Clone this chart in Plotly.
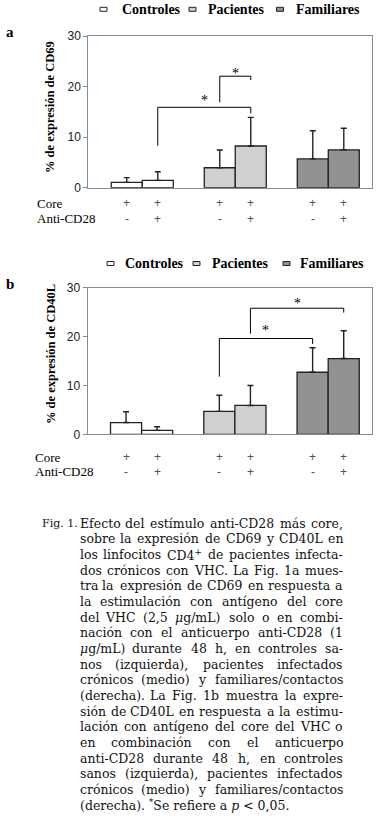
import re
import plotly.graph_objects as go

W, H = 387, 816

# ---------------- data ----------------
groups = ["Controles", "Pacientes", "Familiares"]
group_colors = ["#ffffff", "#d0d0d0", "#929292"]
bar_pos = [[0, 1], [3, 4], [6, 7]]

cd69_mean = [[1.05, 1.45], [3.95, 8.25], [5.7, 7.5]]
cd69_err = [[0.95, 1.7], [3.5, 5.65], [5.55, 4.25]]
cd40l_mean = [[2.4, 0.8], [4.7, 5.9], [12.7, 15.5]]
cd40l_err = [[2.2, 0.75], [3.3, 4.1], [5.0, 5.7]]

core_marks = ["+", "+", "+", "+", "+", "+"]
cd28_marks = ["-", "+", "-", "+", "-", "+"]
row_labels = ["Core", "Anti-CD28"]

y_ticks = [0, 10, 20, 30]

# (x_left, x_right, y_left_end, y_top, y_right_end, y_star)
cd69_brackets = [(1, 4, 8.3, 15.9, 14.7, 17.3), (3, 4, 16.9, 22.05, 21.3, 22.6)]
cd40l_brackets = [(3, 6, 11.8, 19.6, 18.5, 21.2), (4, 7, 20.6, 25.8, 24.9, 26.8)]

caption_lines = [
    "Efecto del estímulo anti-CD28 más core,",
    "sobre la expresión de CD69 y CD40L en",
    "los linfocitos CD4<sup>+</sup> de pacientes infecta-",
    "dos crónicos con VHC. La Fig. 1a mues-",
    "tra la expresión de CD69 en respuesta a",
    "la estimulación con antígeno del core",
    "del VHC (2,5 <i>μ</i>g/mL) solo o en combi-",
    "nación con el anticuerpo anti-CD28 (1",
    "<i>μ</i>g/mL) durante 48 h, en controles sa-",
    "nos (izquierda), pacientes infectados",
    "crónicos (medio) y familiares/contactos",
    "(derecha). La Fig. 1b muestra la expre-",
    "sión de CD40L en respuesta a la estimu-",
    "lación con antígeno del core del VHC o",
    "en combinación con el anticuerpo",
    "anti-CD28 durante 48 h, en controles",
    "sanos (izquierda), pacientes infectados",
    "crónicos (medio) y familiares/contactos",
    "(derecha). <sup>*</sup>Se refiere a <i>p</i> &lt; 0,05.",
]
caption_label = "Fig. 1."

# ---------------- helpers ----------------
def px(x):
    return x / W


def py(y):
    return 1 - y / H


panels = [
    dict(name="a", title="% de expresión de CD69", mean=cd69_mean, err=cd69_err,
         brackets=cd69_brackets, xd=(88.3, 371.7), yd=(36, 187.7),
         legend_y=9.3, box_x=[100, 189, 276.5], text_x=[120, 205.5, 293.5],
         label_xy=(10, 32), title_xy=(50, 107), rows_x=35, rows_y=(203.3, 219)),
    dict(name="b", title="% de expresión de CD40L", mean=cd40l_mean, err=cd40l_err,
         brackets=cd40l_brackets, xd=(87.5, 371.7), yd=(287.7, 434.3),
         legend_y=263.5, box_x=[107, 193, 283], text_x=[122.5, 209.5, 297.5],
         label_xy=(10, 284), title_xy=(51, 354), rows_x=32.5, rows_y=(457.3, 471.7)),
]

fig = go.Figure()
annotations = []
shapes = []
SERIF = "Liberation Serif"
SANS = "Liberation Sans"
FRAME = "#8a8a8a"

for i, p in enumerate(panels):
    xa = "x" if i == 0 else "x2"
    ya = "y" if i == 0 else "y2"
    for g in range(3):
        fig.add_trace(go.Bar(
            x=bar_pos[g], y=p["mean"][g], width=1,
            marker=dict(color=group_colors[g], line=dict(color="#222222", width=1.3)),
            error_y=dict(type="data", symmetric=False, array=p["err"][g],
                         arrayminus=[0, 0], color="#222222", thickness=1.4, width=3),
            xaxis=xa, yaxis=ya, showlegend=False, name=groups[g]))
    for (xl, xr, yl, yt, yr, ys) in p["brackets"]:
        fig.add_trace(go.Scatter(
            x=[xl, xl, xr, xr], y=[yl, yt, yt, yr], mode="lines",
            line=dict(color="#000000", width=1), xaxis=xa, yaxis=ya,
            showlegend=False, hoverinfo="skip"))
        annotations.append(dict(x=(xl + xr) / 2, y=ys, xref=xa, yref=ya, text="*",
                                showarrow=False, xanchor="center", yanchor="middle",
                                font=dict(family=SERIF, size=14, color="#000")))
    # legend
    for g in range(3):
        shapes.append(dict(type="rect", xref="paper", yref="paper",
                           x0=px(p["box_x"][g]), x1=px(p["box_x"][g] + 7),
                           y0=py(p["legend_y"] - 2), y1=py(p["legend_y"] + 2),
                           fillcolor=group_colors[g], line=dict(color="#222", width=1)))
        annotations.append(dict(x=px(p["text_x"][g]), y=py(p["legend_y"]), xref="paper",
                                yref="paper", text="<b>%s</b>" % groups[g], showarrow=False,
                                xanchor="left", yanchor="middle",
                                font=dict(family=SERIF, size=14, color="#000")))
    # panel letter
    annotations.append(dict(x=px(p["label_xy"][0]), y=py(p["label_xy"][1]), xref="paper",
                            yref="paper", text="<b>%s</b>" % p["name"], showarrow=False,
                            xanchor="center", yanchor="middle",
                            font=dict(family=SERIF, size=15, color="#000")))
    # y title
    annotations.append(dict(x=px(p["title_xy"][0]), y=py(p["title_xy"][1]), xref="paper",
                            yref="paper", text="<b>%s</b>" % p["title"], showarrow=False,
                            textangle=-90, xanchor="center", yanchor="middle",
                            font=dict(family=SERIF, size=12.5, color="#000")))
    # row labels and +/- marks
    for r, lab in enumerate(row_labels):
        annotations.append(dict(x=px(p["rows_x"]), y=py(p["rows_y"][r]), xref="paper",
                                yref="paper", text=lab, showarrow=False, xanchor="left",
                                yanchor="middle", font=dict(family=SERIF, size=13, color="#000")))
        marks = core_marks if r == 0 else cd28_marks
        xs = [v for pair in bar_pos for v in pair]
        for xv, m in zip(xs, marks):
            annotations.append(dict(x=xv, y=py(p["rows_y"][r]), xref=xa, yref="paper",
                                    text=m, showarrow=False, xanchor="center",
                                    yanchor="middle",
                                    font=dict(family=SANS, size=12, color="#555")))

axis_common = dict(showgrid=False, zeroline=False, showline=True, linecolor=FRAME,
                   linewidth=1, mirror=True, automargin=False)
layout_axes = {}
for i, p in enumerate(panels):
    sx = "" if i == 0 else "2"
    layout_axes["xaxis" + sx] = dict(axis_common, domain=[px(p["xd"][0]), px(p["xd"][1])],
                                     range=[-1.24, 7.9], showticklabels=False, ticks="",
                                     anchor="y" + sx, fixedrange=True)
    layout_axes["yaxis" + sx] = dict(axis_common, domain=[py(p["yd"][1]), py(p["yd"][0])],
                                     range=[0, 30], tickvals=y_ticks, ticks="outside",
                                     ticklen=4, tickcolor=FRAME, anchor="x" + sx,
                                     tickfont=dict(family=SANS, size=12, color="#222"))

# ---------------- caption (justified) ----------------
CW = {" ": 651, "(": 799, ")": 799, "*": 1024, "+": 1716, ",": 651, "-": 692, ".": 651,
      "/": 690, ":": 690, "<": 1716, "0": 1303, "1": 1303, "2": 1303, "3": 1303, "4": 1303,
      "5": 1303, "6": 1303, "7": 1303, "8": 1303, "9": 1303,
      "A": 1464, "B": 1438, "C": 1490, "D": 1618, "E": 1393, "F": 1329, "G": 1579,
      "H": 1716, "I": 823, "L": 1292, "M": 1966, "S": 1333, "V": 1464,
      "a": 1221, "b": 1314, "c": 1135, "d": 1314, "e": 1219, "f": 760, "g": 1314,
      "h": 1339, "i": 676, "j": 653, "k": 1251, "l": 676, "m": 1982, "n": 1339,
      "o": 1233, "p": 1314, "q": 1314, "r": 985, "s": 1053, "t": 821, "u": 1339,
      "v": 1184, "w": 1741, "x": 1184, "y": 1184, "z": 1094,
      "á": 1221, "é": 1219, "í": 676, "ó": 1233, "ú": 1339, "μ": 1339}
CAP_SIZE = 12.5
CAP_FONT = "DejaVu Serif"


def text_width(s, size):
    s = s.replace("&lt;", "<")
    total = 0.0
    for part in re.split(r"(<sup>.*?</sup>)", s):
        scale = 1.0
        if part.startswith("<sup>"):
            part = part[5:-6]
            scale = 0.7
        part = re.sub(r"</?[a-z]+>", "", part)
        for ch in part:
            total += CW.get(ch, 1200) * scale
    return total / 2048 * size


L, R = 79.0, 343.5
y0, dy = 523.3, 15.65
capfont = dict(family=CAP_FONT, size=CAP_SIZE, color="#111")
annotations.append(dict(x=px(41), y=py(y0), xref="paper", yref="paper", text=caption_label,
                        showarrow=False, xanchor="left", yanchor="middle", borderpad=0,
                        font=dict(family=CAP_FONT, size=11, color="#111")))
for li, line in enumerate(caption_lines):
    yy = py(y0 + li * dy)
    if li == len(caption_lines) - 1:
        annotations.append(dict(x=px(L), y=yy, xref="paper", yref="paper", text=line,
                                showarrow=False, xanchor="left", yanchor="middle",
                                borderpad=0, font=capfont))
        continue
    words = line.split(" ")
    widths = [text_width(w, CAP_SIZE) for w in words]
    gap = (R - L - sum(widths)) / (len(words) - 1)
    xcur = L
    for wi, (w, ww) in enumerate(zip(words, widths)):
        if wi == 0:
            ax, anc = xcur, "left"
        elif wi == len(words) - 1:
            ax, anc = R, "right"
        else:
            ax, anc = xcur + ww / 2, "center"
        annotations.append(dict(x=px(ax), y=yy, xref="paper", yref="paper", text=w,
                                showarrow=False, xanchor=anc, yanchor="middle",
                                borderpad=0, font=capfont))
        xcur += ww + gap

fig.update_layout(template="none", width=W, height=H, autosize=False,
                  margin=dict(l=0, r=0, t=0, b=0, pad=0),
                  paper_bgcolor="#ffffff", plot_bgcolor="#ffffff", barmode="overlay",
                  showlegend=False, annotations=annotations, shapes=shapes, **layout_axes)

fig.write_html("out.html", config={"displayModeBar": False, "staticPlot": True},
               post_script="document.body.style.margin='0';document.body.style.padding='0';")
